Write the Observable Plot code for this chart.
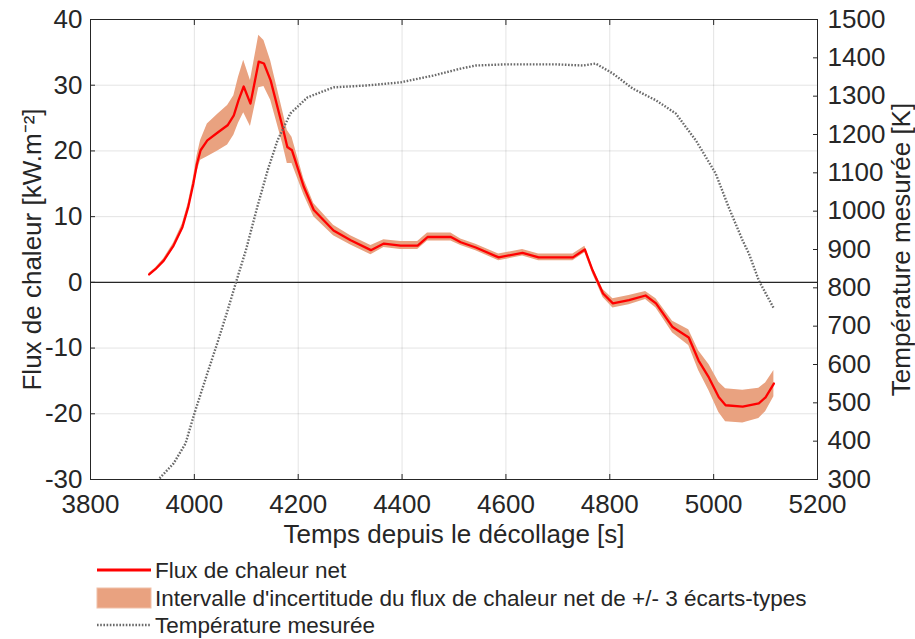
<!DOCTYPE html>
<html>
<head>
<meta charset="utf-8">
<script src="https://cdn.jsdelivr.net/npm/d3@7"></script>
<script src="https://cdn.jsdelivr.net/npm/@observablehq/plot@0.6"></script>
<style>
  body { margin: 0; background: #fff; font-family: "Liberation Sans", Arial, sans-serif; }
  #wrap { position: relative; width: 915px; height: 639px; }
  #legend { position: absolute; left: 0; top: 0; }
</style>
</head>
<body>
<div id="wrap"></div>
<script>
// Heat flux series (kW/m^2) vs time since take-off (s)
const fluxTime = [3913,3925,3941,3960,3977,3988,3998,4005,4012,4025,4045,4064,4076,4085,4095,4108,4124,4134,4147,4170,4179,4188,4211,4230,4268,4301,4340,4365,4397,4430,4449,4494,4513,4542,4586,4632,4663,4729,4752,4767,4787,4806,4837,4869,4889,4921,4952,4971,4991,5010,5023,5056,5087,5100,5116];
const fluxValue = [1.2,2.0,3.3,5.6,8.4,11.4,15.0,18.0,20.1,21.6,22.8,23.9,25.4,27.7,29.8,27.2,33.6,33.3,30.7,23.6,20.6,20.1,14.5,11.0,7.9,6.4,4.9,5.9,5.6,5.6,6.9,6.9,6.1,5.3,3.8,4.5,3.8,3.8,5.0,1.8,-1.7,-3.2,-2.7,-2.0,-3.2,-6.8,-8.4,-11.9,-14.5,-17.5,-18.7,-18.9,-18.4,-17.5,-15.4];
// +/- 3 standard deviations half-width
const fluxSigma3 = [0.2,0.2,0.3,0.4,0.5,0.6,0.8,1.2,1.5,2.5,2.8,3.0,3.0,3.5,4.0,3.5,4.0,3.5,3.0,2.5,2.5,2.0,1.2,1.0,0.8,0.7,0.7,0.6,0.6,0.6,0.6,0.6,0.5,0.5,0.5,0.5,0.5,0.5,0.5,0.5,0.6,0.7,0.7,0.6,0.7,0.9,1.2,1.5,2.0,2.3,2.5,2.5,2.3,2.2,2.0];

// Measured temperature (K)
const tempTime = [3933,3960,3983,4000,4025,4044,4064,4083,4099,4121,4141,4160,4185,4218,4268,4333,4397,4461,4513,4542,4600,4696,4748,4773,4806,4844,4889,4927,4966,5004,5029,5056,5068,5087,5116];
const tempValue = [303,342,394,472,577,655,741,827,897,1010,1106,1184,1255,1297,1323,1328,1336,1354,1372,1380,1383,1383,1380,1385,1359,1320,1289,1255,1184,1098,1010,923,889,819,746];

const xTicks = [3800,4000,4200,4400,4600,4800,5000,5200];
const yTicks = [-30,-20,-10,0,10,20,30,40];
const tempTicks = [300,400,500,600,700,800,900,1000,1100,1200,1300,1400,1500];

const legendLabels = ["Flux de chaleur net", "Intervalle d'incertitude du flux de chaleur net de +/- 3 écarts-types", "Température mesurée"];

const toFlux = T => -30 + (T - 300) * 70 / 1200;
const fromFlux = v => 300 + (v + 30) * 1200 / 70;

const fluxData = fluxTime.map((t, i) => ({t, v: fluxValue[i], lo: fluxValue[i] - fluxSigma3[i], hi: fluxValue[i] + fluxSigma3[i]}));
const tempData = tempTime.map((t, i) => ({t, T: tempValue[i]}));

const ink = "#262626";
const font = "'Liberation Sans', Arial, sans-serif";
const plot = Plot.plot({
  width: 915,
  height: 555,
  marginLeft: 90,
  marginRight: 98,
  marginTop: 19,
  marginBottom: 76,
  x: {domain: [3800, 5200]},
  y: {domain: [-30, 40]},
  style: {fontFamily: font, fontSize: "23px", color: ink, background: "#fff"},
  marks: [
    Plot.gridX(xTicks, {stroke: "#000", strokeOpacity: 0.11}),
    Plot.gridY(yTicks, {stroke: "#000", strokeOpacity: 0.11}),
    Plot.ruleY([0], {stroke: ink, strokeWidth: 1.2}),
    Plot.areaY(fluxData, {x: "t", y1: "lo", y2: "hi", fill: "#e9a280", fillOpacity: 1}),
    Plot.line(fluxData, {x: "t", y: "v", stroke: "#f00", strokeWidth: 2.3}),
    Plot.line(tempData, {x: "t", y: d => toFlux(d.T), stroke: "#6a6a6a", strokeWidth: 2.4, strokeDasharray: "1.6,1.6", strokeLinecap: "butt", strokeLinejoin: "miter"}),
    Plot.frame({stroke: ink, strokeWidth: 1}),
    Plot.axisX(xTicks, {anchor: "bottom", tickSize: -5, tickPadding: 20, stroke: ink, fontSize: 23,
      tickFormat: d => String(d),
      label: "Temps depuis le décollage [s]", labelAnchor: "center", labelArrow: "none", labelOffset: 63}),
    Plot.axisX(xTicks, {anchor: "top", tickSize: -5, tickFormat: () => "", stroke: ink, label: null}),
    Plot.axisY(yTicks, {anchor: "left", tickSize: -5, tickPadding: 13, stroke: ink, fontSize: 23,
      tickFormat: d => String(d),
      label: "Flux de chaleur [kW.m⁻²]", labelAnchor: "center", labelArrow: "none", labelOffset: 68}),
    Plot.axisY(tempTicks.map(toFlux), {anchor: "right", tickSize: -5, tickPadding: 15, stroke: ink, fontSize: 23,
      tickFormat: v => String(Math.round(fromFlux(v))),
      label: "Température mesurée [K]", labelAnchor: "center", labelArrow: "none", labelOffset: 92})
  ]
});

// Enlarge axis titles
plot.querySelectorAll("[aria-label$='label'] text, [aria-label$='label']").forEach(el => {
  if (el.tagName === "text" || el.tagName === "g") el.setAttribute("font-size", 26);
});

const wrap = document.getElementById("wrap");
wrap.appendChild(plot);

// Legend below the chart
const ns = "http://www.w3.org/2000/svg";
const leg = document.createElementNS(ns, "svg");
leg.setAttribute("id", "legend");
leg.setAttribute("width", 915);
leg.setAttribute("height", 639);
leg.style.pointerEvents = "none";
const rows = [570, 598, 625];
const add = (tag, attrs) => { const el = document.createElementNS(ns, tag); for (const k in attrs) el.setAttribute(k, attrs[k]); leg.appendChild(el); return el; };
add("line", {x1: 97, x2: 151, y1: rows[0], y2: rows[0], stroke: "#f00", "stroke-width": 3});
add("rect", {x: 97, y: rows[1] - 10, width: 54, height: 20, fill: "#e9a280", stroke: "#f0c0a8"});
add("line", {x1: 97, x2: 151, y1: rows[2], y2: rows[2], stroke: "#6a6a6a", "stroke-width": 2.4, "stroke-dasharray": "1.6,1.6"});
legendLabels.forEach((s, i) => {
  const t = add("text", {x: 155, y: rows[i], "dominant-baseline": "central", "font-size": 22.5, fill: ink, "font-family": font});
  t.textContent = s;
});
wrap.appendChild(leg);
</script>
</body>
</html>
